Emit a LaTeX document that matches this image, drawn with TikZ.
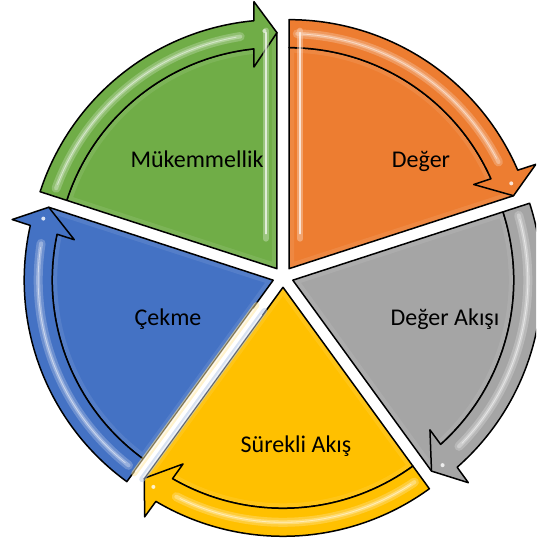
\documentclass[tikz,border=0pt]{standalone}
\usepackage{fontspec}
\setmainfont{Carlito}
\usetikzlibrary{calc}

\definecolor{segOrange}{HTML}{ED7D31}
\definecolor{segGray}{HTML}{A5A5A5}
\definecolor{segYellow}{HTML}{FFC000}
\definecolor{segBlue}{HTML}{4472C4}
\definecolor{segGreen}{HTML}{70AD47}

\tikzset{
  segline/.style={draw=black, line width=1.5pt, line join=round},
  lbl/.style={font=\fontsize{24}{28}\selectfont, text=black, anchor=base, inner sep=0pt},
}

% One segment of the cycle: a wedge with a curved arrow running clockwise
% along its rim.  #1 colour, #2 leading angle, #3 trailing angle.
\newcommand\cycleseg[3]{%
  \pgfmathsetmacro\segmid{(#2+#3)/2}%
  \begin{scope}[shift={(283,267)}, shift={(\segmid:10.3)}]
    % wedge body
    \path[fill=#1] (0,0) -- (#2:221)
      arc[start angle=#2, end angle={#3+6}, radius=221]
      -- (#3:236) -- cycle;
    % soft inner rim of the wedge
    \begin{scope}
      \clip (0,0) -- (#2:221)
        arc[start angle=#2, end angle={#3+6}, radius=221]
        -- (#3:236) -- cycle;
      \draw[#1!75!white, opacity=0.35, line width=10pt, line join=round]
        (0,0) -- (#2:221) arc[start angle=#2, end angle={#3+6}, radius=221]
        -- (#3:236) -- cycle;
    \end{scope}
    \path[segline] (0,0) -- (#2:221)
      arc[start angle=#2, end angle={#3+6}, radius=221]
      -- (#3:236) -- cycle;
    % rim arrow
    \path[segline, fill=#1] (#2:221) -- (#2:249)
      arc[start angle=#2, end angle={#3+5.3}, radius=249]
      -- ({#3+4.92}:268) -- (#3:236) -- ({#3+6.5}:203) -- ({#3+6}:221)
      arc[start angle={#3+6}, end angle=#2, radius=221] -- cycle;
    % glossy stripe along the arrow
    \draw[white, opacity=0.22, line width=9pt, line cap=round]
      ({#2-2}:235) arc[start angle={#2-2}, end angle={#3+9}, radius=235];
    \draw[white, opacity=0.3, line width=4pt, line cap=round]
      ({#2-2}:235) arc[start angle={#2-2}, end angle={#3+9}, radius=235];
    \draw[white, opacity=0.5, line width=0.8pt, line cap=round]
      ({#2-3}:235) arc[start angle={#2-3}, end angle={#3+10}, radius=235];
    \fill[white, opacity=0.8] ({#3+3}:238) circle[radius=2];
  \end{scope}}

% Light streak inside one straight edge of a segment.
% #1 bisector, #2 edge angle, #3 inward direction, #4 tint
\newcommand\segglow[4]{%
  \begin{scope}[shift={(283,267)}, shift={(#1:10.3)}]
    \draw[#4, opacity=0.5, line width=6pt, line cap=round]
      ($(#2:30)+(#3:11)$) -- ($(#2:238)+(#3:11)$);
    \draw[white, opacity=0.7, line width=1.5pt, line cap=round]
      ($(#2:35)+(#3:11)$) -- ($(#2:236)+(#3:11)$);
  \end{scope}}

\begin{document}
\begin{tikzpicture}[x=1pt, y=1pt]
  \useasboundingbox (0,0) rectangle (536,544);
  \clip (0,0) rectangle (536,544);

  \cycleseg{segOrange}{90}{18}
  \cycleseg{segGray}{18}{-54}
  \cycleseg{segYellow}{-54}{-126}
  \cycleseg{segBlue}{-126}{-198}
  \cycleseg{segGreen}{162}{90}

  \segglow{54}{90}{0}{segOrange!40!white}
  \segglow{126}{90}{180}{segGreen!40!white}
  \segglow{-162}{-126}{-36}{segBlue!40!white}
  \segglow{-90}{-126}{144}{segYellow!40!white}

  \node[lbl] (deger)   at (421,376) {Değer};
  \node[lbl] (akis)    at (445,218) {Değer Akışı};
  \node[lbl] (surekli) at (296,91)  {Sürekli Akış};
  \node[lbl] (cekme)   at (168,218) {Çekme};
  \node[lbl] (mukem)   at (197,376) {Mükemmellik};
\end{tikzpicture}
\end{document}
